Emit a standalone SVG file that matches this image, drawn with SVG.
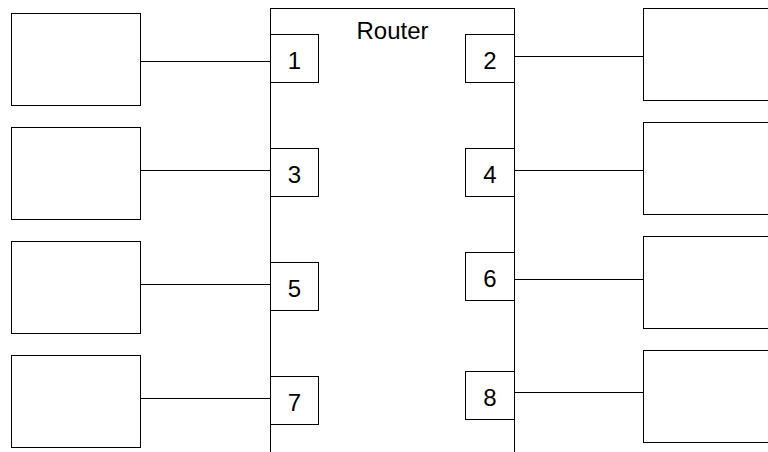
<svg xmlns="http://www.w3.org/2000/svg" width="768" height="452" viewBox="0 0 768 452">
<style>
.box{fill:#fff;stroke:#000;stroke-width:1}
.ln{stroke:#000;stroke-width:1;fill:none}
.t{font-family:"Liberation Sans",Arial,sans-serif;font-size:24px;fill:#000;text-anchor:middle}
</style>
<rect width="768" height="452" fill="#fff"/>
<g id="router">
<rect class="box" x="270.5" y="8.5" width="244" height="460"/>
<text class="t" x="392.5" y="39">Router</text>
</g>
<g id="connectors">
<line class="ln" x1="140.5" y1="61.5" x2="270.5" y2="61.5"/>
<line class="ln" x1="140.5" y1="170.5" x2="270.5" y2="170.5"/>
<line class="ln" x1="140.5" y1="284.5" x2="270.5" y2="284.5"/>
<line class="ln" x1="140.5" y1="398.5" x2="270.5" y2="398.5"/>
<line class="ln" x1="514.5" y1="56.5" x2="643.5" y2="56.5"/>
<line class="ln" x1="514.5" y1="170.5" x2="643.5" y2="170.5"/>
<line class="ln" x1="514.5" y1="279.5" x2="643.5" y2="279.5"/>
<line class="ln" x1="514.5" y1="392.5" x2="643.5" y2="392.5"/>
</g>
<g id="port1"><rect class="box" x="270.5" y="34.5" width="48" height="48"/><text class="t" x="294.5" y="68.5">1</text></g>
<g id="port3"><rect class="box" x="270.5" y="148.5" width="48" height="48"/><text class="t" x="294.5" y="182.5">3</text></g>
<g id="port5"><rect class="box" x="270.5" y="262.5" width="48" height="48"/><text class="t" x="294.5" y="296.5">5</text></g>
<g id="port7"><rect class="box" x="270.5" y="376.5" width="48" height="48"/><text class="t" x="294.5" y="410.5">7</text></g>
<g id="port2"><rect class="box" x="465.5" y="34.5" width="49" height="48"/><text class="t" x="490" y="68.5">2</text></g>
<g id="port4"><rect class="box" x="465.5" y="148.5" width="49" height="48"/><text class="t" x="490" y="182.5">4</text></g>
<g id="port6"><rect class="box" x="465.5" y="252.5" width="49" height="48"/><text class="t" x="490" y="286.5">6</text></g>
<g id="port8"><rect class="box" x="465.5" y="371.5" width="49" height="48"/><text class="t" x="490" y="405.5">8</text></g>
<g id="device1"><rect class="box" x="11.5" y="13.5" width="129" height="92"/></g>
<g id="device3"><rect class="box" x="11.5" y="127.5" width="129" height="92"/></g>
<g id="device5"><rect class="box" x="11.5" y="241.5" width="129" height="92"/></g>
<g id="device7"><rect class="box" x="11.5" y="355.5" width="129" height="92"/></g>
<g id="device2"><rect class="box" x="643.5" y="8.5" width="130" height="92"/></g>
<g id="device4"><rect class="box" x="643.5" y="122.5" width="130" height="92"/></g>
<g id="device6"><rect class="box" x="643.5" y="236.5" width="130" height="92"/></g>
<g id="device8"><rect class="box" x="643.5" y="350.5" width="130" height="92"/></g>
</svg>
